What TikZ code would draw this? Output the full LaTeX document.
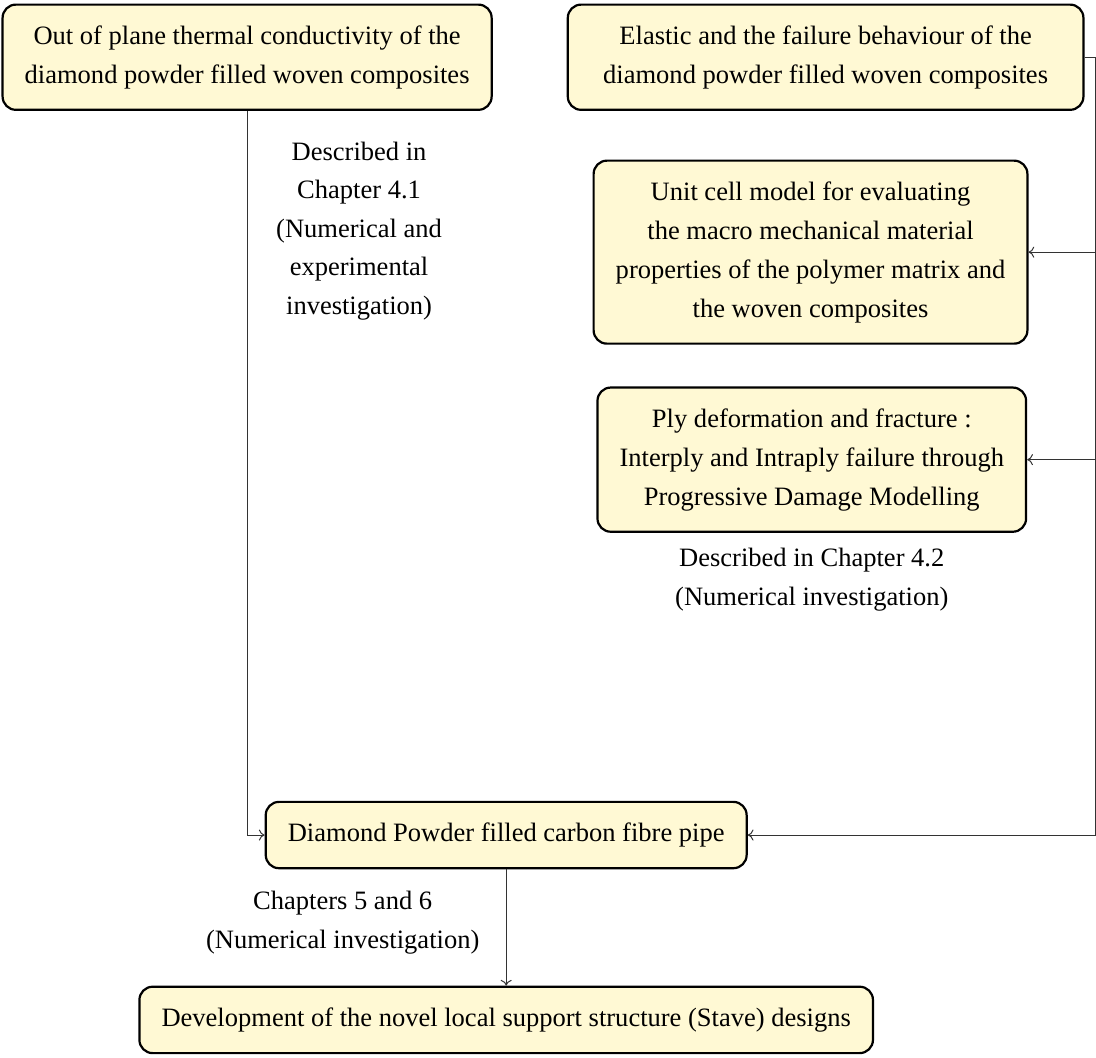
\documentclass[tikz,border=0pt]{standalone}
\usepackage{fontspec}
\setmainfont{Liberation Serif}
\usepackage{tikz}
\usetikzlibrary{arrows,arrows.meta}
\definecolor{boxfill}{RGB}{255,249,212}
\tikzset{
  block/.style={draw, line width=1pt, rounded corners=6pt, fill=boxfill, align=center,
    inner xsep=10pt, inner ysep=9.5pt, font=\fontsize{12}{17.6}\selectfont},
  note/.style={align=center, font=\fontsize{12}{17.4}\selectfont},
  link/.style={-{To[length=2.6pt,width=5pt]}, line width=0.45pt, black!80}
}
\begin{document}
\begin{tikzpicture}
\useasboundingbox (0,0) rectangle (17.43cm,-16.81cm);

\draw (3.93cm,-0.91cm)  node (thermal) [block] {Out of plane thermal conductivity of the\\diamond powder filled woven composites};
\draw (13.13cm,-0.91cm) node (elastic) [block, minimum width=8.2cm] {Elastic and the failure behaviour of the\\diamond powder filled woven composites};

\draw (12.89cm,-4.01cm) node (unitcell) [block] {Unit cell model for evaluating\\the macro mechanical material\\properties of the polymer matrix and\\the woven composites};
\draw (12.91cm,-7.31cm) node (ply) [block] {Ply deformation and fracture :\\Interply and Intraply failure through\\Progressive Damage Modelling};
\draw (12.91cm,-9.22cm) node (ch42) [note] {Described in Chapter 4.2\\(Numerical investigation)};

\draw (5.71cm,-3.67cm)  node (ch41) [note] {Described in\\Chapter 4.1\\(Numerical and\\experimental\\investigation)};

\draw (8.05cm,-13.28cm) node (pipe) [block] {Diamond Powder filled carbon fibre pipe};
\draw (5.45cm,-14.67cm) node (ch56) [note] {Chapters 5 and 6\\(Numerical investigation)};
\draw (8.05cm,-16.22cm) node (stave) [block] {Development of the novel local support structure (Stave) designs};

\coordinate (rail) at (17.42cm,-0.91cm);
\draw[link, -] (elastic) -- (rail);
\draw[link] (rail) |- (unitcell.east);
\draw[link] (rail) |- (ply.east);
\draw[link] (rail) |- (pipe.east);
\draw[link] (thermal) |- (pipe.west);
\draw[link] (pipe) -- (stave);
\end{tikzpicture}
\end{document}
